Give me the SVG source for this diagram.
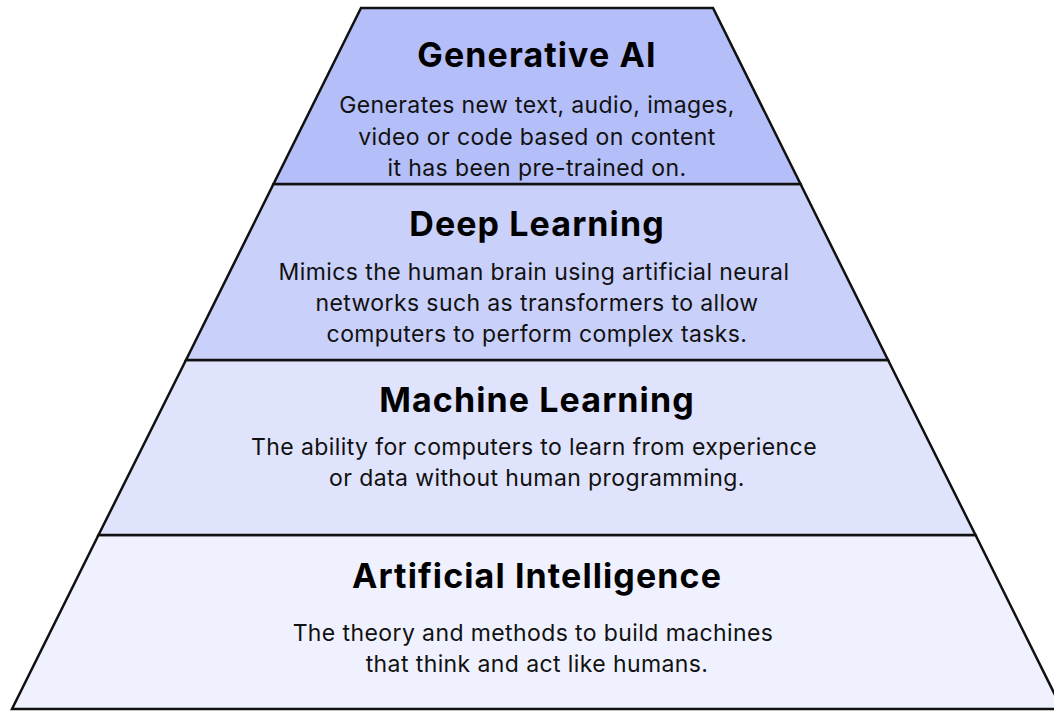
<svg xmlns="http://www.w3.org/2000/svg" width="1054" height="711" viewBox="0 0 1054 711">
<style>
.tier{stroke:#111;stroke-width:2.5;stroke-linejoin:miter}
.t{font-family:Inter,"Liberation Sans",sans-serif;font-weight:700;font-size:34px;letter-spacing:1.1px;fill:#000;text-anchor:middle}
.b{font-family:Inter,"Liberation Sans",sans-serif;font-size:23px;letter-spacing:0.4px;fill:#111;text-anchor:middle}
</style>
<rect width="1054" height="711" fill="#fff"/>
<g id="ai">
<polygon class="tier" fill="#eff1fe" points="98.5,535 975.5,535 1062,709 12,709"/>
<text class="t" x="537" y="588">Artificial Intelligence</text>
<text class="b" x="533" y="641">The theory and methods to build machines</text>
<text class="b" x="537" y="672">that think and act like humans.</text>
</g>
<g id="ml">
<polygon class="tier" fill="#dfe3fb" points="186,360 888,360 975.5,535 98.5,535"/>
<text class="t" x="537" y="412">Machine Learning</text>
<text class="b" x="534" y="455">The ability for computers to learn from experience</text>
<text class="b" x="537" y="486">or data without human programming.</text>
</g>
<g id="dl">
<polygon class="tier" fill="#c9d0f9" points="273.5,184 800.5,184 888,360 186,360"/>
<text class="t" x="537" y="236">Deep Learning</text>
<text class="b" x="534" y="280">Mimics the human brain using artificial neural</text>
<text class="b" x="537" y="311">networks such as transformers to allow</text>
<text class="b" x="537" y="342">computers to perform complex tasks.</text>
</g>
<g id="genai">
<polygon class="tier" fill="#b4bef8" points="361,8 713,8 800.5,184 273.5,184"/>
<text class="t" x="537" y="67">Generative AI</text>
<text class="b" x="537" y="113">Generates new text, audio, images,</text>
<text class="b" x="537" y="145">video or code based on content</text>
<text class="b" x="537" y="176">it has been pre-trained on.</text>
</g>
<g id="connectors"/>
</svg>
